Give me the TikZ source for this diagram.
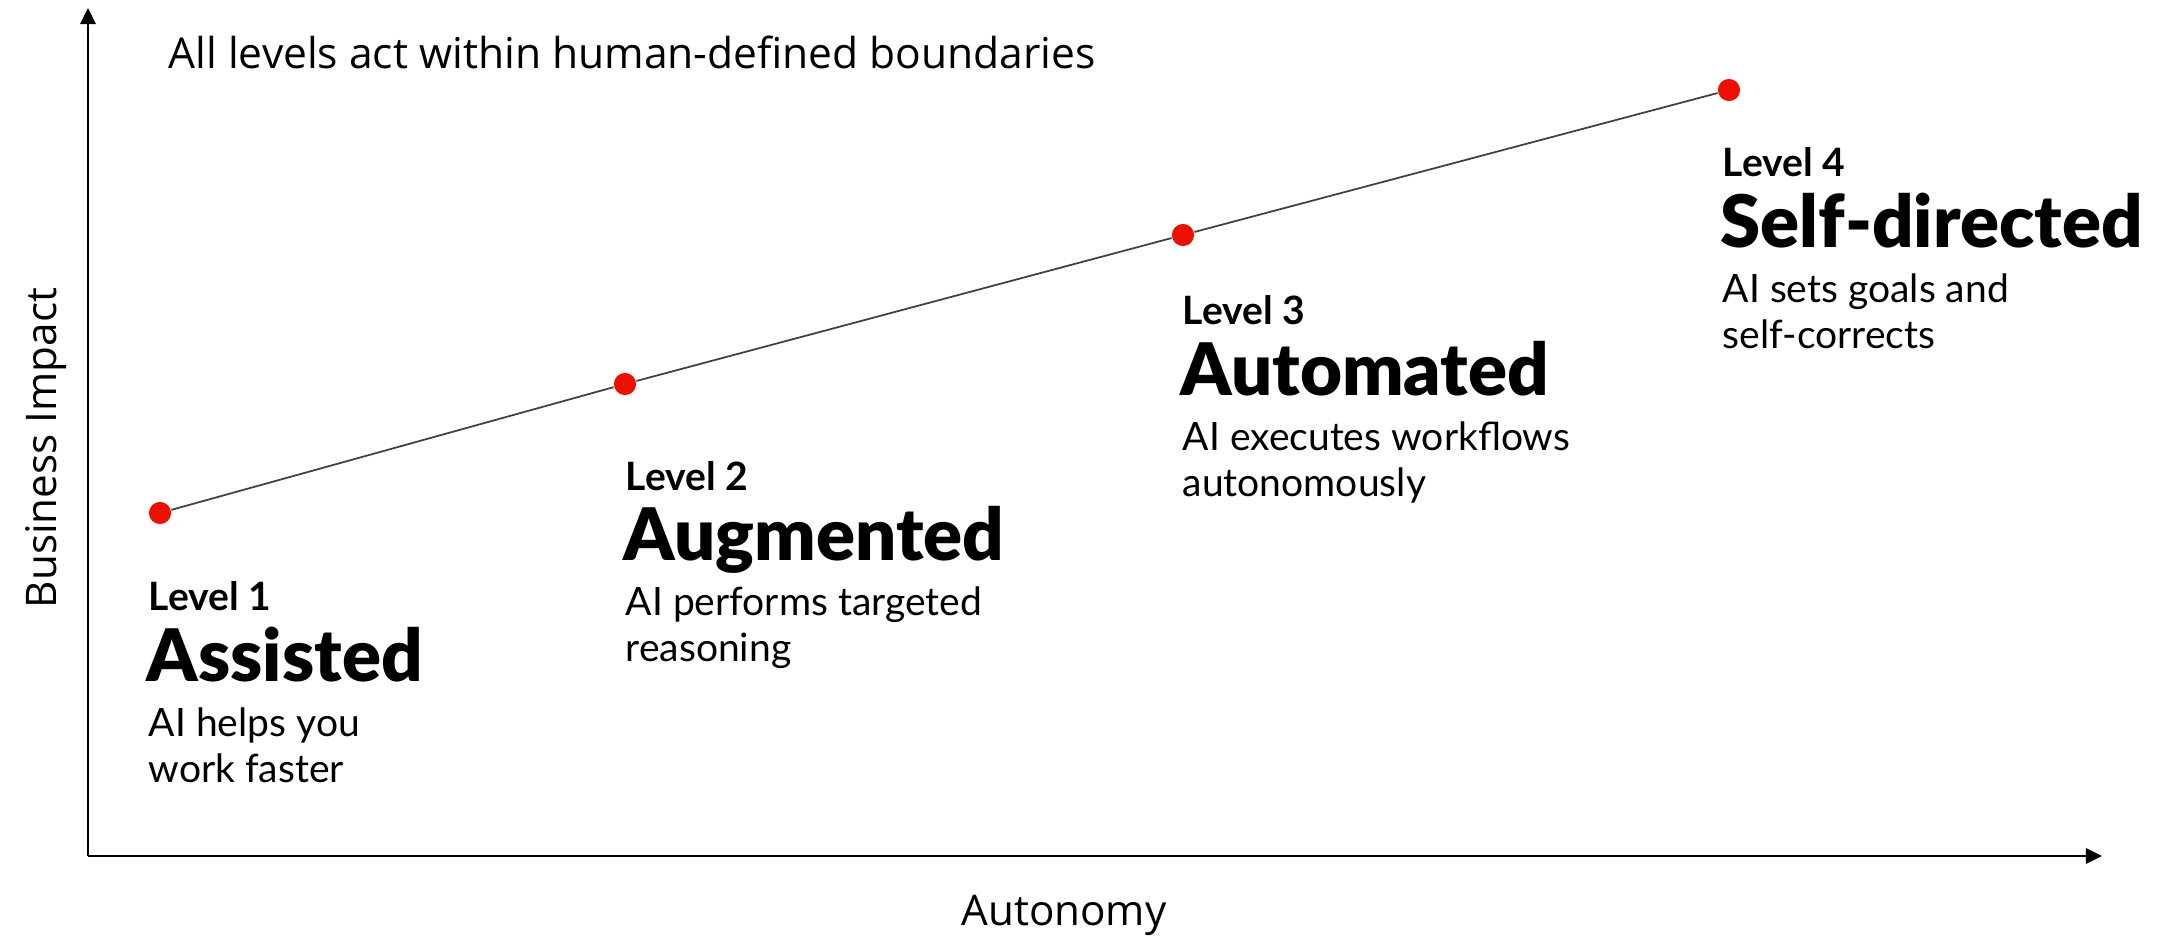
\documentclass[tikz,border=0pt]{standalone}
\usepackage{fontspec}
\setmainfont{Lato}
\newfontfamily\blackfont{Lato Black}
\newfontfamily\axisfont{Open Sans}
\usetikzlibrary{arrows.meta}

\definecolor{dotred}{RGB}{235,16,0}

% two stacked lines, baseline on the first one
\newcommand{\twolines}[2]{\vtop{\hbox{#1}\hbox{#2}}}

\begin{document}
\begin{tikzpicture}[x=0.01cm, y=-0.01cm,
    axis/.style={-{Triangle[length=4.6pt, width=4.4pt]}, line width=0.6pt, draw=black},
    trend/.style={line width=0.5pt, draw=black!75},
    dot/.style={circle, fill=dotred, inner sep=0pt, minimum size=6.3pt},
    leveltag/.style={anchor=base west, inner sep=0pt, font=\fontsize{11.1}{13}\selectfont\bfseries},
    stagename/.style={anchor=base west, inner sep=0pt, font=\fontsize{20.6}{24}\selectfont\blackfont},
    blurb/.style={anchor=base west, inner sep=0pt, font=\fontsize{11.1}{13.1}\selectfont},
    axislabel/.style={inner sep=0pt, font=\fontsize{12}{14}\selectfont\axisfont},
]
\useasboundingbox (0,0) rectangle (2165,935);

% Axes
\coordinate (origin) at (88,856);
\coordinate (ytip) at (88,8);
\coordinate (xtip) at (2102,856);
\draw[axis] (origin) -- (ytip);
\draw[axis] (origin) -- (xtip);

\node[axislabel, anchor=base] (xlabel) at (1064,925) {Autonomy};
\node[axislabel, anchor=base, rotate=90] (ylabel) at (57,448) {Business Impact};
\node[anchor=base west, inner sep=0pt, font=\fontsize{12.1}{14}\selectfont\axisfont] (note) at (168,68)
  {All levels act within human-defined boundaries};

% Levels on the trend line
\node[dot] (d1) at (160,513) {};
\node[dot] (d2) at (625,384) {};
\node[dot] (d3) at (1183,235) {};
\node[dot] (d4) at (1729,90) {};
\draw[trend] (d1) -- (d2) -- (d3) -- (d4);

% Level 1
\node[leveltag] (l1) at (148,610) {Level 1};
\node[stagename] (s1) at (146,681) {Assisted};
\node[blurb] (b1) at (148,736) {\twolines{AI helps you}{work faster}};

% Level 2
\node[leveltag] (l2) at (625,490) {Level 2};
\node[stagename] (s2) at (623,560) {Augmented};
\node[blurb] (b2) at (625,615) {\twolines{AI performs targeted}{reasoning}};

% Level 3
\node[leveltag] (l3) at (1182,324) {Level 3};
\node[stagename] (s3) at (1180,395) {Automated};
\node[blurb] (b3) at (1182,450) {\twolines{AI executes workflows}{autonomously}};

% Level 4
\node[leveltag] (l4) at (1722,176) {Level 4};
\node[stagename] (s4) at (1720,247) {Self-directed};
\node[blurb] (b4) at (1722,302) {\twolines{AI sets goals and}{self-corrects}};

\end{tikzpicture}
\end{document}
